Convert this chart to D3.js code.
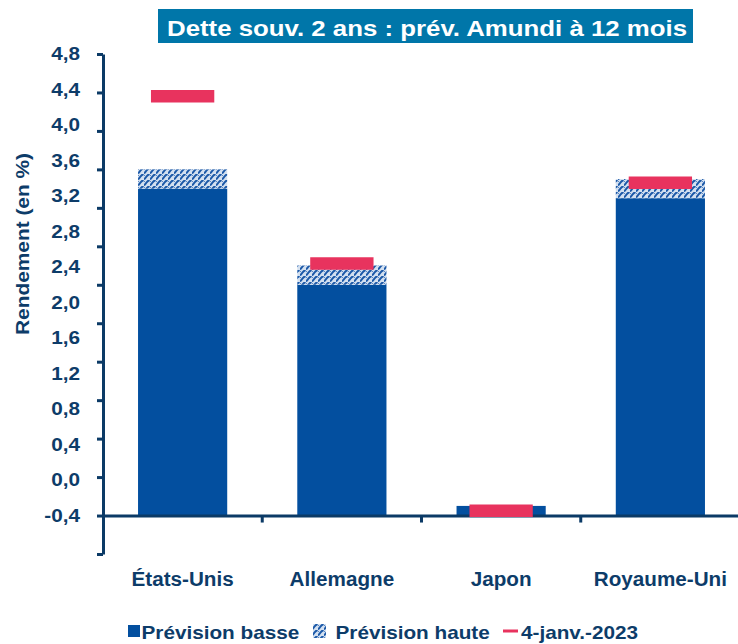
<!DOCTYPE html>
<html>
<head>
<meta charset="utf-8">
<script src="https://cdn.jsdelivr.net/npm/d3@7"></script>
<style>
  body { margin: 0; background: #fff; }
  svg { display: block; font-family: "Liberation Sans", Arial, sans-serif; font-weight: bold; }
</style>
</head>
<body>
<svg id="chart" width="738" height="644"></svg>
<script>
// data
const categories = ["États-Unis", "Allemagne", "Japon", "Royaume-Uni"];
const prevBasse = [3.4, 2.4, 0.1, 3.3];
const prevHaute = [3.6, 2.6, 0.1, 3.5];
const jan2023 = [4.36, 2.62, 0.05, 3.46];
const yTicks = [-0.4, 0.0, 0.4, 0.8, 1.2, 1.6, 2.0, 2.4, 2.8, 3.2, 3.6, 4.0, 4.4, 4.8];
const legendLabels = ["Prévision basse", "Prévision haute", "4-janv.-2023"];

const width = 738, height = 644;
const navy = "#0d3c69";
const axisColor = "#0b3a66";
const blue = "#034f9f";
const red = "#e8335e";
const stretch = 1.1;

const svg = d3.select("#chart");

// excel renders its text a bit wider than the font
function widen(sel, k) {
  sel.each(function () {
    const len = this.getComputedTextLength();
    d3.select(this).attr("textLength", len * (k || stretch)).attr("lengthAdjust", "spacingAndGlyphs");
  });
}

const defs = svg.append("defs");
const pat = defs.append("pattern")
  .attr("id", "hatch")
  .attr("patternUnits", "userSpaceOnUse")
  .attr("width", 6)
  .attr("height", 6);
pat.append("rect").attr("width", 6).attr("height", 6).attr("fill", "#d3e0f0");
pat.append("path")
  .attr("d", "M0,5.5 Q1.5,4 2.5,2.5 T5.5,0")
  .attr("fill", "none")
  .attr("stroke", "#1c59a8")
  .attr("stroke-width", 2);
pat.append("path")
  .attr("d", "M0,2 L1,1")
  .attr("fill", "none")
  .attr("stroke", "#5b88c4")
  .attr("stroke-width", 1);

var x = d3.scaleBand()
  .domain(categories)
  .range([103, 740])
  .paddingInner(0.44)
  .paddingOuter(0.22);

var y = d3.scaleLinear()
  .domain([-0.4, 4.8])
  .range([554, 54]);

// tick labels sit on a slightly tighter grid than the ticks
var yLabel = d3.scaleLinear()
  .domain([-0.4, 4.8])
  .range([515, 53.3]);

const fmt = d => d3.format(".1f")(d).replace(".", ",").replace("−", "-");

// bars: low forecast
svg.append("g")
  .selectAll("rect")
  .data(categories)
  .join("rect")
  .attr("x", d => x(d))
  .attr("width", x.bandwidth())
  .attr("y", (d, i) => y(prevBasse[i]))
  .attr("height", (d, i) => y(0) - y(prevBasse[i]))
  .attr("fill", blue);

// bars: high forecast (stacked)
svg.append("g")
  .selectAll("rect")
  .data(categories)
  .join("rect")
  .attr("x", d => x(d))
  .attr("width", x.bandwidth())
  .attr("y", (d, i) => y(prevHaute[i]))
  .attr("height", (d, i) => y(prevBasse[i]) - y(prevHaute[i]))
  .attr("fill", "url(#hatch)");

// y axis
var yAxis = svg.append("g")
  .attr("transform", "translate(103,0)")
  .call(d3.axisLeft(y).tickValues(yTicks).tickFormat(fmt).tickSize(6).tickSizeOuter(0));
yAxis.select(".domain").attr("stroke", axisColor).attr("stroke-width", 3);
yAxis.selectAll(".tick line").attr("stroke", axisColor).attr("stroke-width", 3);
yAxis.selectAll(".tick").each(function (d) {
  d3.select(this).select("text")
    .attr("x", -23)
    .attr("y", yLabel(d) - y(d))
    .attr("dy", "0.35em")
    .attr("fill", navy)
    .attr("font-size", 18.5)
    .attr("font-family", "Liberation Sans, Arial, sans-serif")
    .attr("font-weight", "bold");
});
widen(yAxis.selectAll(".tick text"), 1.12);

// x axis at zero
var xAxis = svg.append("g")
  .attr("transform", `translate(0,${y(0)})`)
  .call(d3.axisBottom(x).tickSize(0).tickSizeOuter(0));
xAxis.select(".domain").attr("stroke", axisColor).attr("stroke-width", 3);
xAxis.selectAll(".tick text")
  .attr("y", 586 - y(0))
  .attr("dy", 0)
  .attr("fill", navy)
  .attr("font-size", 19.5)
  .attr("font-family", "Liberation Sans, Arial, sans-serif")
  .attr("font-weight", "bold");
widen(xAxis.selectAll(".tick text"), 1.06);

// category boundary ticks
xAxis.append("g")
  .selectAll("line")
  .data(d3.range(1, categories.length + 1))
  .join("line")
  .attr("x1", i => x.range()[0] + i * x.step())
  .attr("x2", i => x.range()[0] + i * x.step())
  .attr("y1", 0)
  .attr("y2", 7)
  .attr("stroke", axisColor)
  .attr("stroke-width", 3);

// 4 jan 2023 markers
svg.append("g")
  .selectAll("line")
  .data(categories)
  .join("line")
  .attr("x1", d => x(d) + x.bandwidth() * 0.145)
  .attr("x2", d => x(d) + x.bandwidth() * 0.855)
  .attr("y1", (d, i) => y(jan2023[i]))
  .attr("y2", (d, i) => y(jan2023[i]))
  .attr("stroke", red)
  .attr("stroke-width", 12.5);

// title
svg.append("rect")
  .attr("x", 158)
  .attr("y", 9)
  .attr("width", 535)
  .attr("height", 34)
  .attr("fill", "#0076a9");
svg.append("text")
  .attr("x", 167)
  .attr("y", 36)
  .attr("fill", "#fff")
  .attr("font-size", 21.5)
  .attr("textLength", 520)
  .attr("lengthAdjust", "spacingAndGlyphs")
  .text("Dette souv. 2 ans : prév. Amundi à 12 mois");

// y axis title
svg.append("text")
  .attr("transform", "translate(29,244) rotate(-90)")
  .attr("text-anchor", "middle")
  .attr("fill", navy)
  .attr("font-size", 18)
  .attr("textLength", 182)
  .attr("lengthAdjust", "spacingAndGlyphs")
  .text("Rendement (en %)");

// legend
const leg = svg.append("g");
leg.append("rect")
  .attr("x", 128).attr("y", 625).attr("width", 12).attr("height", 12)
  .attr("fill", blue);
leg.append("rect")
  .attr("x", 313).attr("y", 624).attr("width", 13).attr("height", 14)
  .attr("fill", "url(#hatch)");
leg.append("line")
  .attr("x1", 503).attr("x2", 518).attr("y1", 631).attr("y2", 631)
  .attr("stroke", red).attr("stroke-width", 3);
const legX = [141.5, 335.5, 521];
leg.selectAll("text")
  .data(legendLabels)
  .join("text")
  .attr("x", (d, i) => legX[i])
  .attr("y", 638.5)
  .attr("fill", navy)
  .attr("font-size", 18.5)
  .text(d => d);
widen(leg.selectAll("text"), 1.12);
</script>
</body>
</html>
